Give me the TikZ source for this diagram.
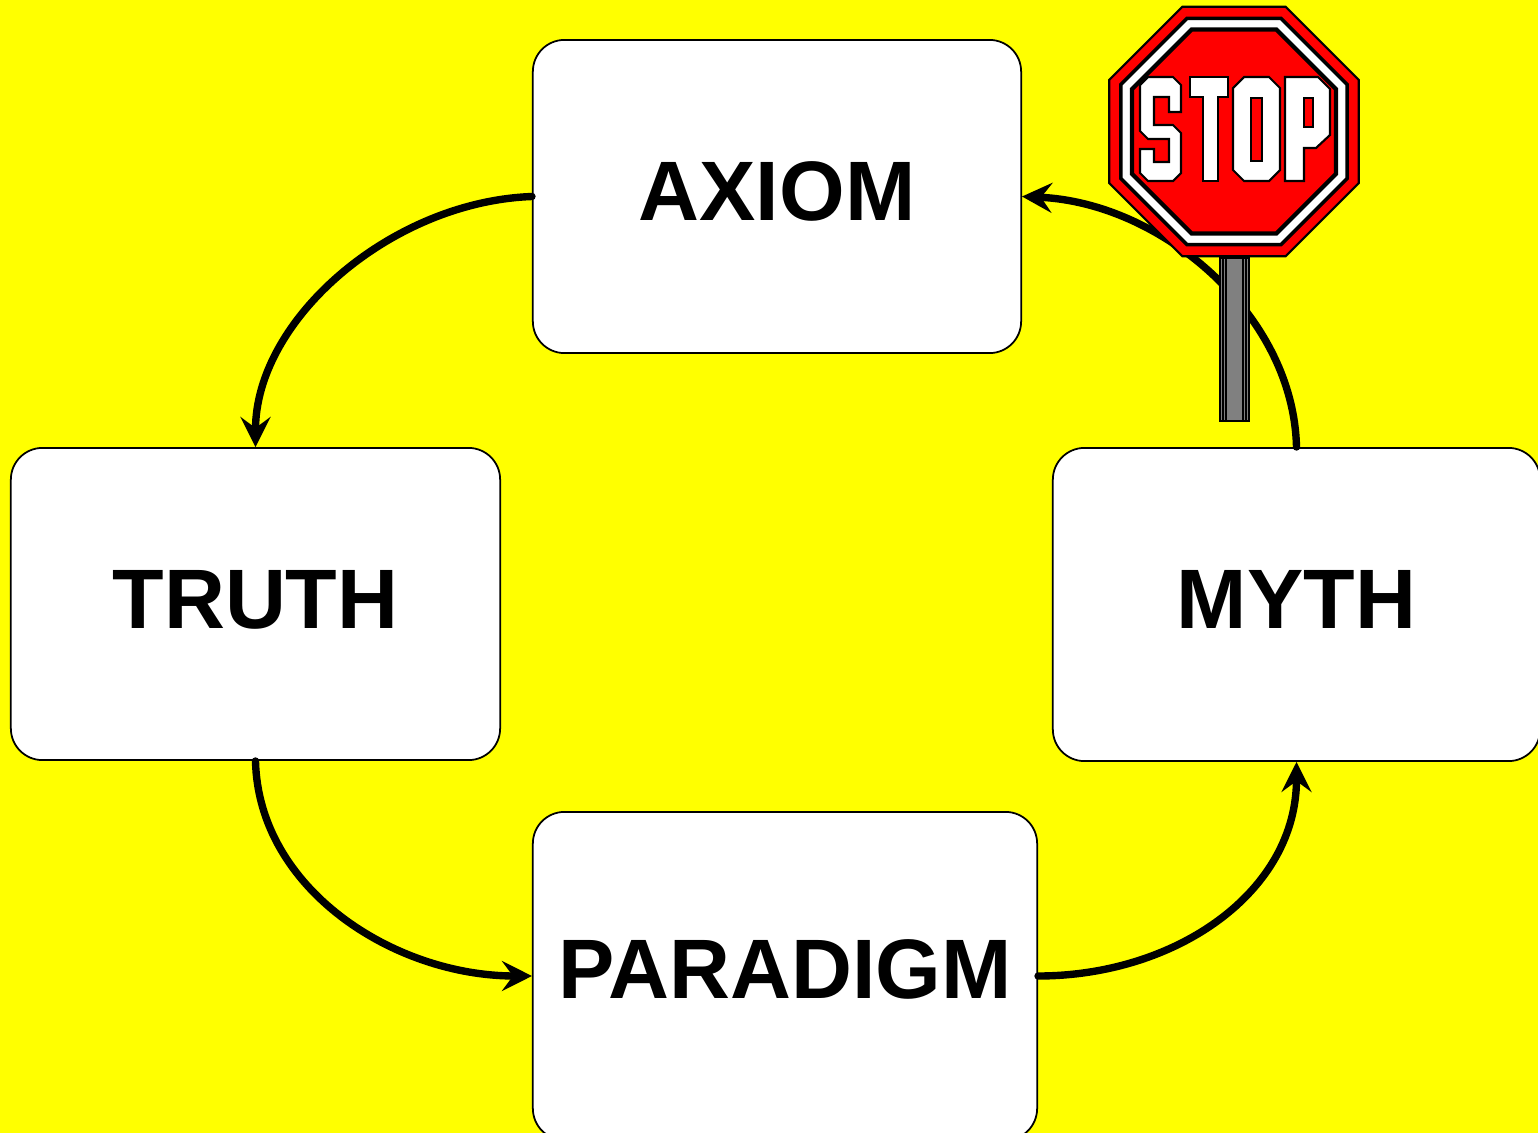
\documentclass[tikz,border=0pt]{standalone}
\usepackage{fontspec}
\setmainfont{Liberation Sans}
\usetikzlibrary{arrows.meta, positioning}

\definecolor{bgyellow}{RGB}{255,255,0}
\definecolor{signred}{RGB}{255,0,0}
\definecolor{postgray}{RGB}{128,128,128}

\begin{document}
\begin{tikzpicture}[
    x=0.01cm, y=-0.01cm,
    concept/.style={
        rectangle,
        rounded corners=9pt,
        draw=black,
        line width=0.5pt,
        fill=white,
        inner sep=0pt,
        text depth=0.1cm,
        font=\bfseries\fontsize{24}{28}\selectfont
    },
    flow/.style={
        line width=2.1pt,
        line cap=round,
        -{Stealth[length=0.3cm, width=0.3cm, inset=0.11cm]}
    },
    letter/.style={
        fill=white,
        draw=black,
        line width=0.6pt
    }
]
    % Background
    \useasboundingbox (0,0) rectangle (1538,1133);
    \clip (0,0) rectangle (1538,1133);
    \fill[bgyellow] (0,0) rectangle (1538,1133);

    % Concept boxes
    \node[concept, minimum width=4.88cm, minimum height=3.13cm] (axiom_box) at (777,196.5) {AXIOM};
    \node[concept, minimum width=4.89cm, minimum height=3.12cm] (truth_box) at (255.5,604) {TRUTH};
    \node[concept, minimum width=4.87cm, minimum height=3.13cm] (myth_box) at (1296.5,604.5) {MYTH};
    \node[concept, minimum width=5.04cm, minimum height=3.28cm, text depth=0.14cm] (paradigm_box) at (785,976) {PARADIGM};

    % Cycle arrows
    \draw[flow] (axiom_box.west) .. controls +(-140,5) and +(0,-128) .. (truth_box.north);
    \draw[flow] (truth_box.south) .. controls +(3,128) and +(-138,0) .. (paradigm_box.west);
    \draw[flow] (paradigm_box.east) .. controls +(138,0) and +(0,130) .. (myth_box.south);
    \draw[flow] (myth_box.north) .. controls +(-3,-132) and +(140,6) .. (axiom_box.east);

    % Stop sign post
    \draw[fill=postgray, line width=0.5pt] (1220,258) rectangle (1249,421);
    \foreach \x in {1223, 1226, 1243, 1246} {
        \draw[line width=0.3pt] (\x,258) -- (\x,421);
    }

    % Stop sign plate
    \begin{scope}[shift={(1234,131.5)}]
        \draw[fill=signred, line width=0.6pt] (22.5:135) \foreach \a in {67.5,112.5,...,337.5} {-- (\a:135)} -- cycle;
        \draw[fill=white, line width=1pt] (22.5:122.5) \foreach \a in {67.5,112.5,...,337.5} {-- (\a:122.5)} -- cycle;
        \draw[fill=signred, line width=1.2pt] (22.5:110.5) \foreach \a in {67.5,112.5,...,337.5} {-- (\a:110.5)} -- cycle;
    \end{scope}

    % STOP letters
    \draw[letter] (1140,85) -- (1148,77) -- (1173,77) -- (1181,85) -- (1181,112) -- (1169,112)
        -- (1169,97) -- (1154,97) -- (1154,125) -- (1173,125) -- (1181,133) -- (1181,173)
        -- (1173,181) -- (1148,181) -- (1140,173) -- (1140,149) -- (1154,149) -- (1154,162)
        -- (1169,162) -- (1169,139) -- (1148,139) -- (1140,131) -- cycle;
    \draw[letter] (1190,77) -- (1228,77) -- (1228,97) -- (1218,97) -- (1218,181)
        -- (1203,181) -- (1203,97) -- (1190,97) -- cycle;
    \draw[letter] (1233,88) -- (1244,77) -- (1269,77) -- (1280,88) -- (1280,170)
        -- (1269,181) -- (1244,181) -- (1233,170) -- cycle;
    \draw[fill=signred, line width=0.6pt] (1251,98) rectangle (1262,161);
    \draw[letter] (1285,77) -- (1318,77) -- (1330,89) -- (1330,135) -- (1316,148)
        -- (1304,148) -- (1304,181) -- (1285,181) -- cycle;
    \draw[fill=signred, line width=0.6pt] (1304,98) rectangle (1313,127);
\end{tikzpicture}
\end{document}
